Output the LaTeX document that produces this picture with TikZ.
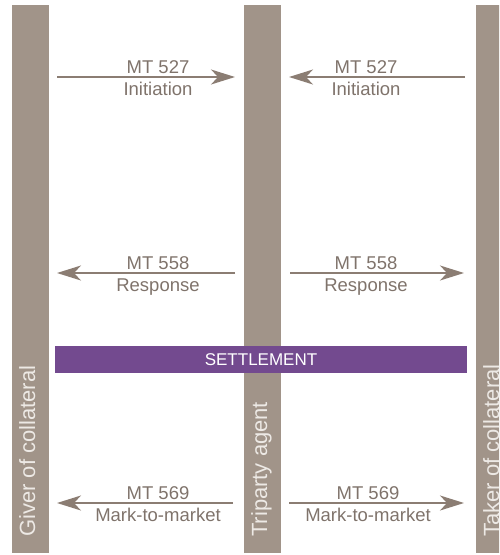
\documentclass[tikz,border=0pt]{standalone}
\usepackage{fontspec}
\setmainfont{Liberation Sans}
\usetikzlibrary{arrows.meta}
\definecolor{barc}{HTML}{A19489}
\definecolor{arrc}{HTML}{8B7D73}
\definecolor{txtc}{HTML}{7F736B}
\definecolor{purp}{HTML}{734A8F}
\definecolor{vtxt}{HTML}{EDE9E5}
\begin{document}
\begin{tikzpicture}[x=1pt,y=-1pt,
  bar/.style={fill=barc,draw=none,minimum width=37pt,minimum height=548pt,inner sep=0pt},
  vlabel/.style={rotate=90,anchor=base west,inner sep=0pt,text=vtxt,font=\fontsize{22}{24}\selectfont},
  msg/.style={-{Stealth[length=24pt,width=15pt,inset=7pt]},draw=arrc,line width=1.4pt},
  lbl/.style={anchor=base,inner sep=0pt,text=txtc,font=\fontsize{18.5}{20}\selectfont}]
\useasboundingbox (0,0) rectangle (499,555);
\clip (0,0) rectangle (499,555);
\node[bar] (giver) at (30.5,279) {};
\node[bar] (agent) at (262.5,279) {};
\node[bar] (taker) at (494.5,279) {};
\node[vlabel] (giverlbl) at (35,537) {Giver of collateral};
\node[vlabel] (agentlbl) at (267,537) {Triparty agent};
\node[vlabel] (takerlbl) at (499,537) {Taker of collateral};
\node[fill=purp,minimum width=412pt,minimum height=27pt,inner sep=0pt,text=white,font=\fontsize{17}{19}\selectfont] (settle) at (261,359.5) {SETTLEMENT};
% coordinates
\coordinate (a1) at (57,77); \coordinate (b1) at (235,77);
\coordinate (c1) at (465,77); \coordinate (d1) at (289,77);
\coordinate (a2) at (235,273); \coordinate (b2) at (57,273);
\coordinate (c2) at (290,273); \coordinate (d2) at (464,273);
\coordinate (a3) at (233,503); \coordinate (b3) at (57,503);
\coordinate (c3) at (289,503); \coordinate (d3) at (464,503);
\draw[msg] (a1) -- (b1);
\draw[msg] (c1) -- (d1);
\draw[msg] (a2) -- (b2);
\draw[msg] (c2) -- (d2);
\draw[msg] (a3) -- (b3);
\draw[msg] (c3) -- (d3);
\node[lbl] (l1a) at (158,73) {MT 527};
\node[lbl] (l1b) at (158,95.5) {Initiation};
\node[lbl] (r1a) at (366,73) {MT 527};
\node[lbl] (r1b) at (366,95.5) {Initiation};
\node[lbl] (l2a) at (158,269) {MT 558};
\node[lbl] (l2b) at (158,291.5) {Response};
\node[lbl] (r2a) at (366,269) {MT 558};
\node[lbl] (r2b) at (366,291.5) {Response};
\node[lbl] (l3a) at (158,499) {MT 569};
\node[lbl] (l3b) at (158,521.5) {Mark-to-market};
\node[lbl] (r3a) at (368,499) {MT 569};
\node[lbl] (r3b) at (368,521.5) {Mark-to-market};
\end{tikzpicture}
\end{document}
